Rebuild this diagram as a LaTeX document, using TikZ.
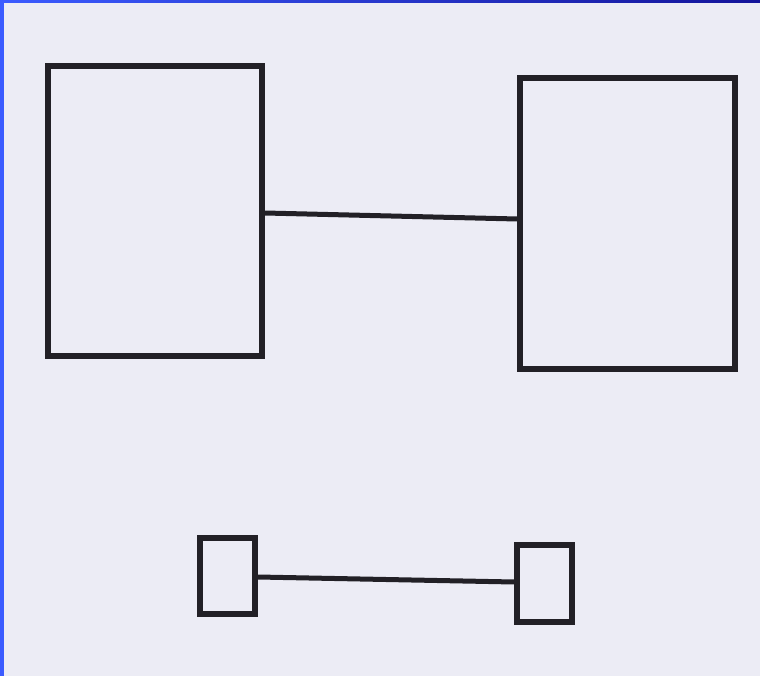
\documentclass[tikz,border=0pt]{standalone}
\usetikzlibrary{calc}
\definecolor{paper}{HTML}{ECECF5}
\definecolor{ink}{HTML}{222026}
\definecolor{edgeblue}{HTML}{3B5BFF}
\definecolor{edgedark}{HTML}{14149A}
\begin{document}
\begin{tikzpicture}[x=1pt,y=-1pt,
  box/.style={draw=ink,line width=5.5pt,rectangle,inner sep=0pt,fill=paper},
  link/.style={draw=ink,line width=5pt}]
\useasboundingbox (0,0) rectangle (760,676);
\fill[paper] (0,0) rectangle (760,676);
\fill[edgeblue] (0,0) rectangle (4,676);
\shade[left color=edgeblue,right color=edgedark] (0,0) rectangle (760,3);
\node[box,minimum width=214pt,minimum height=290pt] (A) at (155,211) {};
\node[box,minimum width=215pt,minimum height=291pt] (B) at (627.5,223.5) {};
\node[box,minimum width=55pt,minimum height=76pt] (C) at (227.5,576) {};
\node[box,minimum width=55pt,minimum height=77pt] (D) at (544.5,583.5) {};
\draw[link] ($(A.east)+(0,2)$) -- ($(B.west)+(0,-4.5)$);
\draw[link] ($(C.east)+(0,1)$) -- ($(D.west)+(0,-1.5)$);
\end{tikzpicture}
\end{document}
